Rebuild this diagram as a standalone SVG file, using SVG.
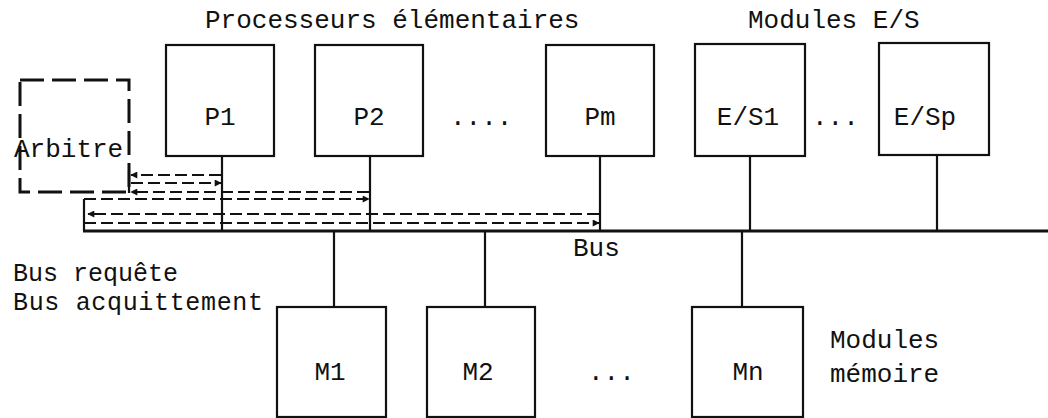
<svg xmlns="http://www.w3.org/2000/svg" width="1048" height="418" viewBox="0 0 1048 418">
<defs>
<style>
text{font-family:"Liberation Mono","Courier New",monospace;font-size:26px;fill:#111}
.sm{font-size:25px}
.box{fill:#fff;stroke:#111;stroke-width:2.2}
.arb{fill:none;stroke:#111;stroke-width:3;stroke-dasharray:24 8}
.ln{stroke:#111;stroke-width:2.2;fill:none}
.bus{stroke:#111;stroke-width:2.8;fill:none}
.sig{stroke:#111;stroke-width:2;fill:none;stroke-dasharray:12 5}
.mid{text-anchor:middle}
</style>
<marker id="ah" viewBox="0 0 10 10" refX="9" refY="5" markerWidth="9" markerHeight="7" orient="auto" markerUnits="userSpaceOnUse">
<path d="M0,0 L10,5 L0,10 Z" fill="#111"/>
</marker>
</defs>
<rect width="1048" height="418" fill="#fff"/>
<text x="205" y="28">Processeurs élémentaires</text>
<text x="748" y="28">Modules E/S</text>
<g id="connectors">
<line class="bus" x1="83" y1="231" x2="1048" y2="231"/>
<line class="ln" x1="222" y1="156" x2="222" y2="231"/>
<line class="ln" x1="370" y1="156" x2="370" y2="231"/>
<line class="ln" x1="600" y1="156" x2="600" y2="231"/>
<line class="ln" x1="750" y1="156" x2="750" y2="231"/>
<line class="ln" x1="937" y1="155" x2="937" y2="231"/>
<line class="ln" x1="334" y1="231" x2="334" y2="307"/>
<line class="ln" x1="485" y1="231" x2="485" y2="307"/>
<line class="ln" x1="742" y1="231" x2="742" y2="307"/>
<line class="ln" x1="84" y1="199" x2="84" y2="231"/>
<line class="ln" x1="129" y1="170" x2="129" y2="193"/>
<line class="sig" x1="221" y1="175" x2="131" y2="175" marker-end="url(#ah)"/>
<line class="sig" x1="131" y1="183" x2="221" y2="183" marker-end="url(#ah)"/>
<line class="sig" x1="369" y1="192" x2="131" y2="192" marker-end="url(#ah)"/>
<line class="sig" x1="84" y1="199" x2="369" y2="199" marker-end="url(#ah)"/>
<line class="sig" x1="599" y1="214" x2="88" y2="214" marker-end="url(#ah)"/>
<line class="sig" x1="84" y1="223" x2="599" y2="223" marker-end="url(#ah)"/>
<text x="573" y="256">Bus</text>
</g>
<g id="arbitre">
<rect class="arb" x="20" y="80" width="109" height="112"/>
<text x="14" y="157">Arbitre</text>
</g>
<g id="P1"><rect class="box" x="166" y="45" width="108" height="111"/><text class="mid" x="220" y="125">P1</text></g>
<g id="P2"><rect class="box" x="315" y="45" width="108" height="111"/><text class="mid" x="369" y="125">P2</text></g>
<text x="450" y="125">....</text>
<g id="Pm"><rect class="box" x="546" y="45" width="108" height="111"/><text class="mid" x="600" y="125">Pm</text></g>
<g id="ES1"><rect class="box" x="695" y="44" width="110" height="112"/><text class="mid" x="748" y="125">E/S1</text></g>
<text x="812" y="125">...</text>
<g id="ESp"><rect class="box" x="879" y="43" width="110" height="112"/><text class="mid" x="925" y="125">E/Sp</text></g>
<g id="M1"><rect class="box" x="277" y="307" width="109" height="110"/><text class="mid" x="330" y="380">M1</text></g>
<g id="M2"><rect class="box" x="427" y="307" width="108" height="110"/><text class="mid" x="478" y="380">M2</text></g>
<text x="588" y="380">...</text>
<g id="Mn"><rect class="box" x="692" y="307" width="111" height="110"/><text class="mid" x="748" y="380">Mn</text></g>
<text class="sm" x="13" y="281">Bus requête</text>
<text class="sm" x="13" y="310" textLength="250">Bus acquittement</text>
<text x="830" y="348">Modules</text>
<text x="830" y="382">mémoire</text>
</svg>
